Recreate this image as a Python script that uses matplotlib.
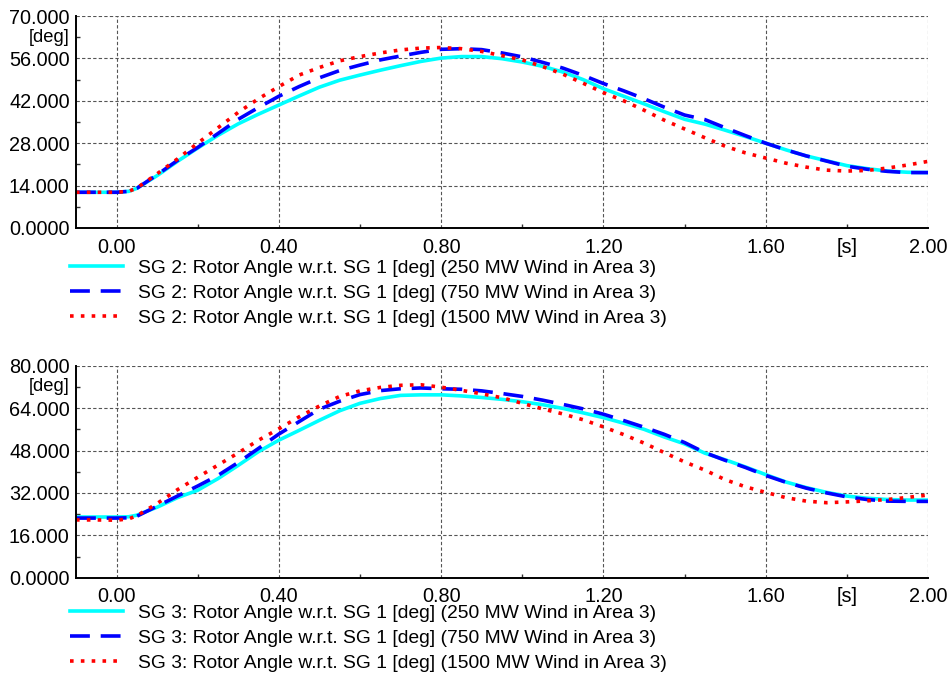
import matplotlib
matplotlib.use("Agg")
import matplotlib.pyplot as plt
from matplotlib.ticker import FixedLocator

plt.rcParams['font.family'] = ['Liberation Sans', 'DejaVu Sans']

# Simulation time [s]
t = [-0.10, -0.05, 0.00, 0.03, 0.05, 0.10, 0.15, 0.20, 0.25, 0.30, 0.35, 0.40,
     0.45, 0.50, 0.55, 0.60, 0.65, 0.70, 0.75, 0.80, 0.85, 0.90, 0.95, 1.00,
     1.05, 1.10, 1.15, 1.20, 1.25, 1.30, 1.35, 1.40, 1.45, 1.50, 1.55, 1.60,
     1.65, 1.70, 1.75, 1.80, 1.85, 1.90, 1.95, 2.00]

# SG 2 rotor angle w.r.t. SG 1 [deg]
sg2_250 = [11.8, 11.8, 11.8, 12.1, 13.1, 17.3, 22.0, 26.4, 30.6, 34.4, 37.6, 40.6,
           43.6, 46.5, 48.8, 50.5, 52.1, 53.6, 55.0, 56.1, 56.6, 56.6, 55.9, 54.8,
           53.4, 51.5, 49.0, 46.0, 43.5, 41.0, 38.4, 35.9, 34.3, 32.3, 30.2, 28.0,
           25.8, 23.8, 22.2, 20.6, 19.6, 18.8, 18.4, 18.3]
sg2_750 = [11.8, 11.8, 11.8, 12.1, 13.1, 17.6, 22.3, 26.6, 31.2, 35.9, 39.8, 43.5,
           46.7, 49.6, 52.0, 53.8, 55.5, 56.8, 58.0, 59.0, 59.2, 58.9, 57.8, 56.5,
           54.7, 52.8, 50.4, 47.7, 45.3, 42.7, 39.9, 37.3, 35.8, 33.1, 30.5, 28.0,
           25.8, 23.8, 22.1, 20.4, 19.4, 18.7, 18.3, 18.3]
sg2_1500 = [11.8, 11.8, 11.8, 12.1, 13.2, 17.9, 22.8, 28.0, 33.1, 38.2, 42.7, 46.7,
            50.5, 53.0, 55.2, 56.6, 57.8, 58.8, 59.4, 59.6, 59.2, 58.3, 56.9, 55.5,
            53.3, 50.8, 47.8, 44.7, 42.0, 38.9, 35.6, 32.7, 29.8, 27.0, 24.8, 23.1,
            21.4, 20.1, 19.1, 18.8, 19.0, 19.8, 20.8, 22.0]

# SG 3 rotor angle w.r.t. SG 1 [deg]
sg3_250 = [22.9, 22.9, 22.9, 23.0, 23.6, 26.6, 30.2, 33.0, 37.4, 42.4, 47.6, 51.9,
           55.6, 59.4, 63.0, 65.8, 67.6, 68.8, 69.0, 69.0, 68.6, 68.0, 67.3, 66.4,
           65.3, 63.9, 62.2, 60.4, 58.3, 56.0, 53.1, 50.5, 47.0, 44.5, 41.8, 38.9,
           36.1, 34.0, 32.2, 30.8, 30.0, 29.5, 29.3, 29.3]
sg3_750 = [22.5, 22.5, 22.5, 22.6, 23.2, 27.0, 30.8, 34.6, 38.6, 43.5, 48.8, 54.2,
           58.9, 63.6, 66.6, 69.1, 70.6, 71.3, 71.6, 71.3, 71.1, 70.5, 69.5, 68.4,
           67.0, 65.4, 63.7, 61.7, 59.3, 56.8, 54.1, 51.0, 47.2, 44.3, 41.6, 38.6,
           36.0, 33.8, 32.0, 30.5, 29.5, 28.9, 28.8, 28.8]
sg3_1500 = [21.8, 21.8, 21.7, 22.2, 23.4, 28.0, 33.2, 37.9, 42.5, 47.1, 51.9, 56.2,
            60.7, 64.8, 68.4, 70.5, 71.8, 72.6, 72.8, 71.9, 70.7, 69.4, 67.9, 65.8,
            63.7, 61.8, 59.6, 56.9, 54.0, 50.8, 47.2, 43.7, 40.6, 37.0, 34.3, 32.2,
            30.2, 28.9, 28.3, 28.6, 29.0, 29.5, 30.3, 31.2]

x_ticks = [0.0, 0.4, 0.8, 1.2, 1.6, 2.0]
x_tick_labels = ["0.00", "0.40", "0.80", "1.20", "1.60", "2.00"]
top_y_ticks = [0, 14, 28, 42, 56, 70]
top_y_labels = ["0.0000", "14.000", "28.000", "42.000", "56.000", "70.000"]
bot_y_ticks = [0, 16, 32, 48, 64, 80]
bot_y_labels = ["0.0000", "16.000", "32.000", "48.000", "64.000", "80.000"]

cases = ["250 MW Wind in Area 3", "750 MW Wind in Area 3", "1500 MW Wind in Area 3"]

styles = [
    dict(color="#00FFFF", linestyle="-", lw=2.6),
    dict(color="#0000FF", linestyle=(0, (5.5, 3.0)), lw=2.6),
    dict(color="#FF0000", linestyle=(0, (1.0, 2.0)), lw=2.6),
]

W, H = 952, 684
fig = plt.figure(figsize=(W / 100, H / 100), dpi=100)

FS_TICK = 14.3
FS_LEG = 13.9
FS_UNIT = 13.2


def panel(rect, series, gen, yticks, ylabels, legend_top):
    ax = fig.add_axes(rect)
    for s, case, st in zip(series, cases, styles):
        ax.plot(t, s, label=f"SG {gen}: Rotor Angle w.r.t. SG 1 [deg] ({case})", **st)
    ax.set_xlim(-0.1, 2.0)
    ax.set_ylim(yticks[0], yticks[-1])
    ax.set_xticks(x_ticks)
    ax.set_xticklabels(x_tick_labels, fontsize=FS_TICK)
    ax.set_yticks(yticks)
    ax.set_yticklabels(ylabels, fontsize=FS_TICK)
    step_y = yticks[1] - yticks[0]
    ax.yaxis.set_minor_locator(FixedLocator([v + step_y / 2 for v in yticks[:-1]]))
    ax.xaxis.set_minor_locator(FixedLocator([v + 0.2 for v in x_ticks[:-1]]))
    ax.tick_params(which="major", length=0, pad=4.5)
    ax.tick_params(axis="x", which="major", pad=7)
    ax.tick_params(which="minor", direction="in", length=3, width=1.0, color="#333333")
    ax.grid(True, which="major", linestyle=(0, (3, 2)), color="#555555", lw=0.8)
    for side in ("top", "right"):
        ax.spines[side].set_visible(False)
    for side in ("left", "bottom"):
        ax.spines[side].set_linewidth(1.4)
        ax.spines[side].set_color("black")
    ax.annotate("[s]", xy=(1.8, 0), xycoords=("data", "axes fraction"),
                xytext=(0, -7), textcoords="offset points",
                ha="center", va="top", fontsize=FS_TICK)
    ax.annotate("[deg]", xy=(0, 0.9), xycoords="axes fraction",
                xytext=(-4.5, 0), textcoords="offset points",
                ha="right", va="center", fontsize=FS_UNIT)
    ax.legend(loc="upper left", bbox_to_anchor=(70 / W, 1 - legend_top / H),
              bbox_transform=fig.transFigure, frameon=False, fontsize=FS_LEG,
              handlelength=2.75, handletextpad=0.75, labelspacing=0.4,
              borderpad=0, borderaxespad=0)
    return ax


ax1 = panel([76 / W, 1 - 228 / H, (928 - 76) / W, (228 - 16) / H],
            [sg2_250, sg2_750, sg2_1500], 2, top_y_ticks, top_y_labels, 259)
ax2 = panel([76 / W, 1 - 577.7 / H, (928 - 76) / W, (577.7 - 365.7) / H],
            [sg3_250, sg3_750, sg3_1500], 3, bot_y_ticks, bot_y_labels, 604)

fig.savefig("out.png", dpi=100)
